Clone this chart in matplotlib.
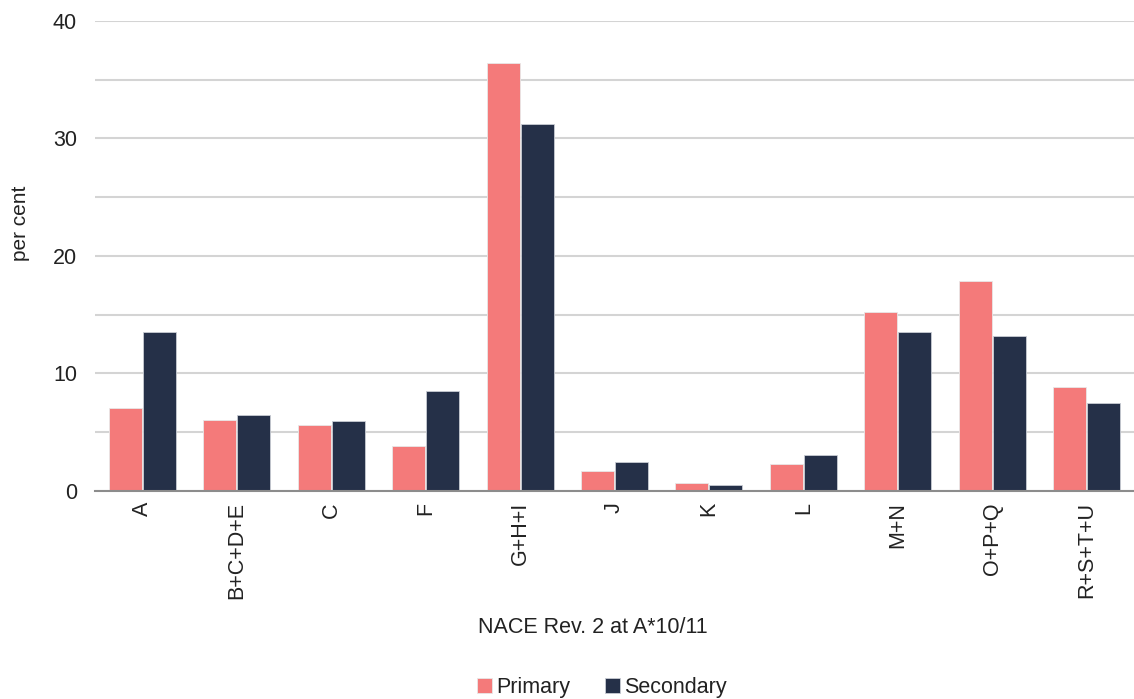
import matplotlib.pyplot as plt
import numpy as np

plt.rcParams['font.family'] = ['Liberation Sans', 'DejaVu Sans']

# data
categories = ['A', 'B+C+D+E', 'C', 'F', 'G+H+I', 'J', 'K', 'L', 'M+N', 'O+P+Q', 'R+S+T+U']
primary = [7.05, 6.05, 5.6, 3.85, 36.4, 1.7, 0.7, 2.3, 15.2, 17.9, 8.85]
secondary = [13.5, 6.45, 5.95, 8.5, 31.2, 2.45, 0.5, 3.05, 13.5, 13.2, 7.5]

col_primary = '#F47A7A'
col_secondary = '#253048'

fig = plt.figure(figsize=(11.34, 6.99), dpi=100)
ax = fig.add_axes([0.0838, 0.2976, 0.9162, 0.6724])

x = np.arange(len(categories))
w = 0.35
ax.bar(x - w / 2 - 0.005, primary, w, color=col_primary, edgecolor='#e8e8e8', linewidth=0.6,
       label='Primary', zorder=3)
ax.bar(x + w / 2 + 0.005, secondary, w, color=col_secondary, edgecolor='#c8ccd4', linewidth=0.6,
       label='Secondary', zorder=3)

ax.set_xlim(-0.5, len(categories) - 0.5)
ax.set_ylim(0, 40)
ax.set_yticks([0, 10, 20, 30, 40])
ax.set_yticks([5, 15, 25, 35], minor=True)
ax.grid(axis='y', which='both', color='#d4d4d4', linewidth=1.5, zorder=0)
ax.tick_params(axis='y', which='both', length=0, labelsize=15.5, colors='#222222', pad=13)

ax.set_xticks(x)
ax.set_xticklabels(categories, rotation=90, fontsize=15.5, color='#222222')
ax.tick_params(axis='x', length=0, pad=8)

for s in ['top', 'right', 'left']:
    ax.spines[s].set_visible(False)
ax.spines['bottom'].set_color('#8c8c8c')
ax.spines['bottom'].set_linewidth(1.5)
ax.spines['bottom'].set_zorder(4)

fig.text(0.018, 0.68, 'per cent', rotation=90, fontsize=15, color='#222222', ha='center', va='center')
fig.text(0.523, 0.102, 'NACE Rev. 2 at A*10/11', fontsize=15.5, color='#222222', ha='center', va='center')

fig.legend(loc='center', bbox_to_anchor=(0.531, 0.017), ncol=2, frameon=False, fontsize=15.5,
           handlelength=0.7, handleheight=0.7, handletextpad=0.2, columnspacing=1.6, labelcolor='#222222')

fig.savefig('out.png', dpi=100)
